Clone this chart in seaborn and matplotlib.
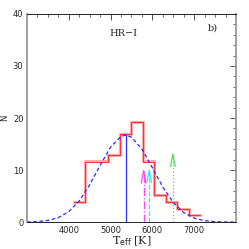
import numpy as np
import pandas as pd
import matplotlib
matplotlib.use("Agg")
import matplotlib.pyplot as plt
import seaborn as sns

# histogram bins (Teff) and heights
bin_edges = [4125, 4400, 4675, 4950, 5225, 5500, 5775, 6050, 6325, 6600, 6875, 7150]
n_pink = [3.9, 11.7, 11.7, 12.9, 16.9, 19.3, 11.7, 5.3, 3.8, 2.6, 1.35]
n_red = [3.9, 11.5, 11.5, 12.9, 16.9, 19.3, 11.5, 5.3, 3.8, 2.6, 1.35]

# gaussian fit
g_mean = 5360
g_sigma = 660
g_peak = 16.7
g_x = [3000, 3250, 3500, 3750, 4000, 4250, 4500, 4750, 5000, 5250, 5360, 5500,
       5750, 6000, 6250, 6500, 6750, 7000, 7250, 7500, 7750, 8000]

# arrows: (Teff, height, colour, style)
arrow_x = [5790, 5925, 6490]
arrow_h = [9.9, 10.0, 13.1]
arrow_col = ['#ff44ff', '#33e5ff', '#55dd55']
arrow_ls = ['-.', '--', ':']

sns.set_style("white")
plt.rcParams['font.family'] = ['DejaVu Sans']

fig = plt.figure(figsize=(2.49, 2.49), dpi=100)
ax = fig.add_axes([0.108, 0.108, 0.84, 0.836])

centers = [(a + b) / 2 for a, b in zip(bin_edges[:-1], bin_edges[1:])]
df = pd.DataFrame({'teff': centers, 'pink': n_pink, 'red': n_red})
sns.histplot(data=df, x='teff', weights='pink', bins=bin_edges, element='step',
             fill=False, color='#ffa8a8', linewidth=2.2, ax=ax)
sns.histplot(data=df, x='teff', weights='red', bins=bin_edges, element='step',
             fill=False, color='#ff3030', linewidth=0.7, ax=ax)

gx = np.array(g_x, dtype=float)
gy = g_peak * np.exp(-(gx - g_mean) ** 2 / (2 * g_sigma ** 2))
sns.lineplot(x=gx, y=gy, color='#2a2aff', linestyle=(0, (3, 2)), linewidth=0.9, ax=ax)
ax.plot([g_mean, g_mean], [0, g_peak], color='#2a2aff', linewidth=0.9)

for xv, hv, c, ls in zip(arrow_x, arrow_h, arrow_col, arrow_ls):
    ax.plot([xv, xv], [0, hv], color=c, linestyle=ls, linewidth=0.9)
    ax.plot([xv - 55, xv, xv + 55], [hv - 2.4, hv, hv - 2.4], color=c, linewidth=0.9)

ax.set_xlim(3000, 8000)
ax.set_ylim(0, 40)
ax.set_xticks([4000, 5000, 6000, 7000])
ax.set_yticks([0, 10, 20, 30, 40])
ax.set_xticks(np.arange(3000, 8001, 250), minor=True)
ax.set_yticks(np.arange(0, 41, 2), minor=True)
ax.tick_params(which='both', direction='in', top=True, right=True, labelsize=6,
               pad=2.5, color='#333333')
ax.tick_params(which='major', length=4, width=0.6)
ax.tick_params(which='minor', length=2, width=0.5)

for side in ['left', 'right']:
    ax.spines[side].set_color('#999999')
    ax.spines[side].set_linewidth(1.3)
for side in ['top', 'bottom']:
    ax.spines[side].set_color('#222222')
    ax.spines[side].set_linewidth(0.7)

ax.set_xlabel(r'T$_{\rm eff}$ [K]', family='DejaVu Serif', fontsize=8, labelpad=0)
ax.set_ylabel('N', fontsize=6, labelpad=3)
ax.text(5320, 36.3, 'HR\u2212I', family='DejaVu Serif', fontsize=7, ha='center', va='center')
ax.text(7450, 37.3, 'b)', family='DejaVu Serif', fontsize=7, ha='center', va='center')

fig.savefig('out.png', dpi=100)
